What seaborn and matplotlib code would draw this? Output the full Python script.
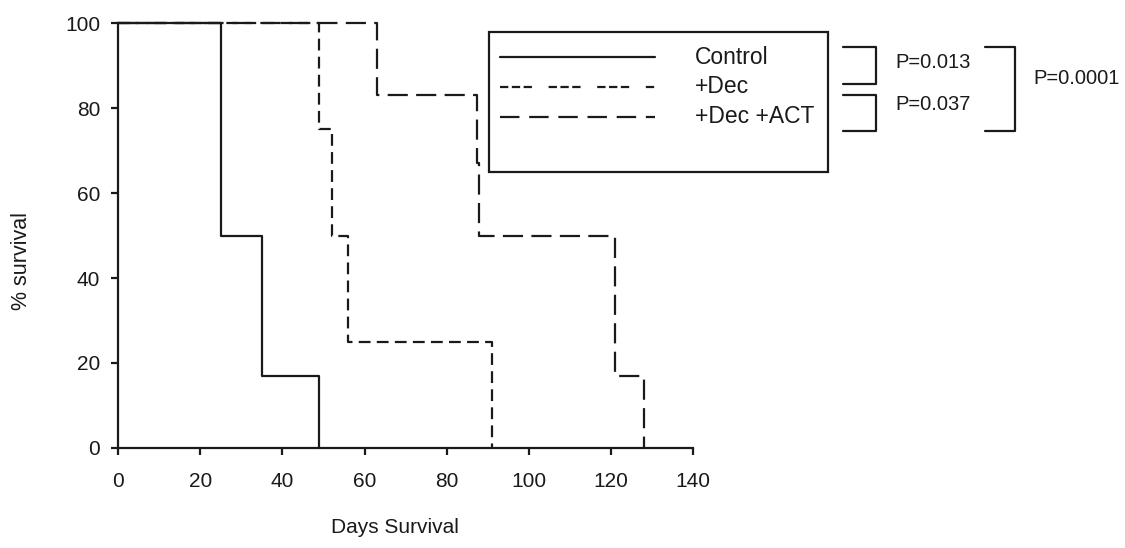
import pandas as pd
import matplotlib.pyplot as plt
import seaborn as sns
from matplotlib.lines import Line2D
from matplotlib.patches import Rectangle

# survival curves (days at each step, % surviving from that day on)
control_days = [0, 25, 35, 49]
control_surv = [100, 50, 17, 0]
dec_days = [0, 49, 52, 56, 91]
dec_surv = [100, 75, 50, 25, 0]
act_days = [0, 63, 87.5, 88, 121, 128]
act_surv = [100, 83, 67, 50, 17, 0]

groups = ['Control', '+Dec', '+Dec +ACT']
p_values = ['P=0.013', 'P=0.037', 'P=0.0001']

df = pd.concat([
    pd.DataFrame({'day': control_days, 'surv': control_surv, 'group': groups[0]}),
    pd.DataFrame({'day': dec_days, 'surv': dec_surv, 'group': groups[1]}),
    pd.DataFrame({'day': act_days, 'surv': act_surv, 'group': groups[2]}),
], ignore_index=True)

sns.set_style('ticks')
plt.rcParams['font.family'] = ['Liberation Sans', 'DejaVu Sans']
plt.rcParams['lines.scale_dashes'] = False

ink = '#1a1a1a'
lw = 1.6
dash_map = {'Control': '', '+Dec': (8.5, 4.5), '+Dec +ACT': (14.5, 6)}

fig = plt.figure(figsize=(11.25, 5.48), dpi=100)
ax = fig.add_axes([0.105, 0.1825, 0.511, 0.7755])

sns.lineplot(data=df, x='day', y='surv', style='group', dashes=dash_map,
             estimator=None, sort=False, drawstyle='steps-post',
             color=ink, linewidth=lw, legend=False, ax=ax, clip_on=False)

ax.set_xlim(0, 140)
ax.set_ylim(0, 100)
ax.set_xticks(range(0, 141, 20))
ax.set_yticks(range(0, 101, 20))
sns.despine(ax=ax)
for s in ['left', 'bottom']:
    ax.spines[s].set_linewidth(lw)
    ax.spines[s].set_color(ink)
ax.tick_params(length=5, width=lw, color=ink, labelsize=15, labelcolor=ink)
ax.tick_params(axis='x', pad=12)
ax.tick_params(axis='y', pad=8)
ax.set_xlabel('Days Survival', fontsize=15, color=ink)
ax.set_ylabel('% survival', fontsize=15.5, color=ink)
ax.xaxis.set_label_coords(0.482, -0.165)
ax.yaxis.set_label_coords(-0.15, 0.44)


def fx(px):
    return px / 1125


def fy(py):
    return 1 - py / 548


# legend box
fig.add_artist(Rectangle((fx(489), fy(172)), fx(828) - fx(489), fy(32) - fy(172),
                         fill=False, edgecolor=ink, linewidth=lw,
                         transform=fig.transFigure))
leg_dashes = [None, (0, (6, 2.5, 6, 2.5, 6, 12)), (0, (14, 7))]
for i, g in enumerate(groups):
    yy = fy(57 + 30 * i)
    ln = Line2D([fx(500), fx(655)], [yy, yy], color=ink, linewidth=lw,
                transform=fig.transFigure)
    if leg_dashes[i] is not None:
        ln.set_linestyle(leg_dashes[i])
    fig.add_artist(ln)
    fig.text(fx(695), yy, g, fontsize=16.5, va='center', ha='left', color=ink)

# p-value brackets
def bracket(x0, x1, y0, y1):
    fig.add_artist(Line2D([fx(x0), fx(x1), fx(x1), fx(x0)],
                          [fy(y0), fy(y0), fy(y1), fy(y1)],
                          color=ink, linewidth=lw, transform=fig.transFigure))


bracket(843, 876, 47, 84)
bracket(843, 876, 95, 131)
bracket(985, 1015, 47, 131)
fig.text(fx(895), fy(63), p_values[0], fontsize=14.5, va='center', color=ink)
fig.text(fx(895), fy(105), p_values[1], fontsize=14.5, va='center', color=ink)
fig.text(fx(1033), fy(79), p_values[2], fontsize=14.5, va='center', color=ink)

fig.savefig('out.png', dpi=100)
